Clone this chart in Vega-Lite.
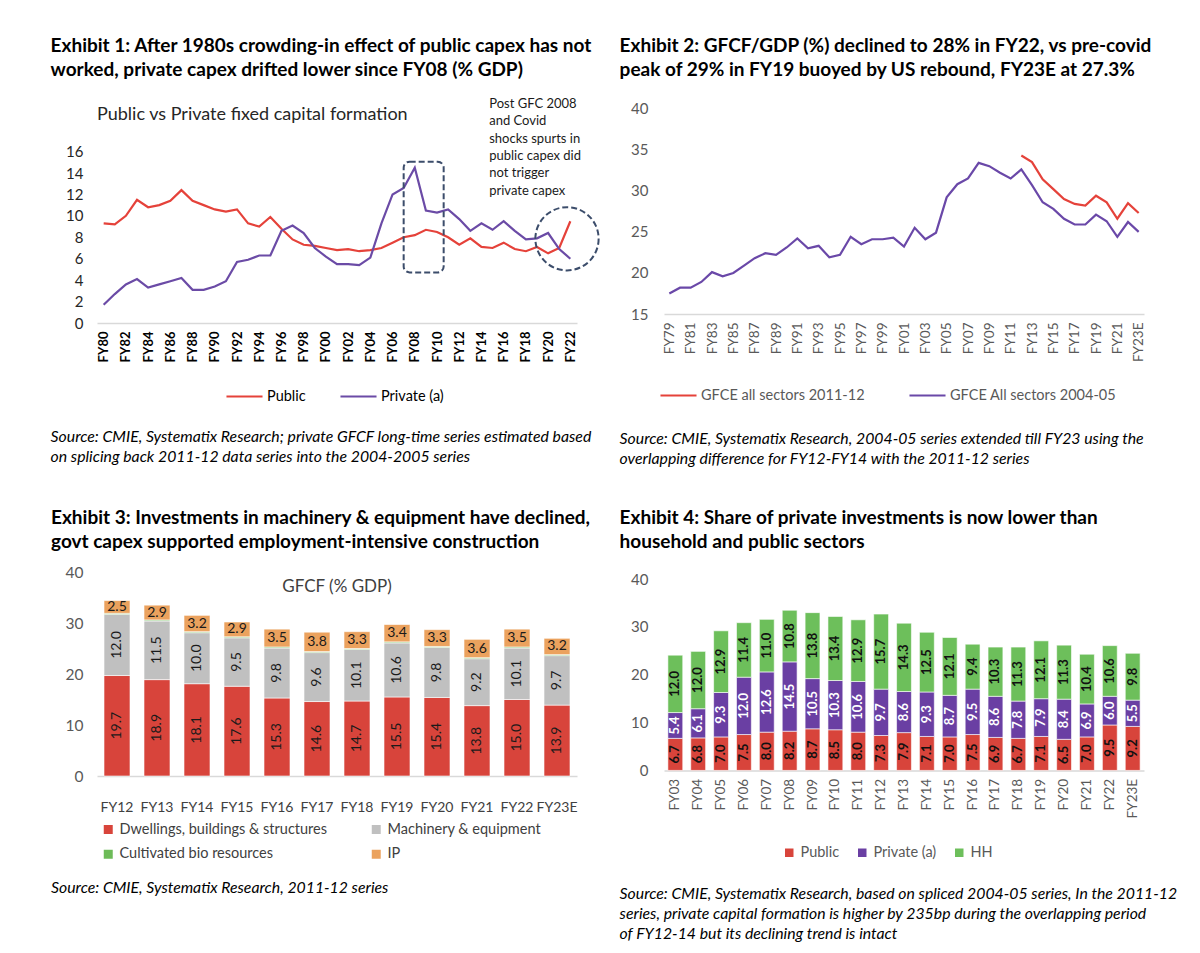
{
  "$schema": "https://vega.github.io/schema/vega-lite/v6.json",
  "background": "white",
  "padding": {"left": 50, "top": 37, "right": 5, "bottom": 5},
  "config": {
    "font": "Lato",
    "view": {"stroke": null},
    "axis": {"grid": false, "ticks": false, "domainColor": "#d9d9d9", "domainWidth": 1.5},
    "legend": {"orient": "bottom", "direction": "horizontal", "labelLimit": 320, "layout": {"anchor": "middle"}},
    "title": {"color": "#000", "anchor": "start"}
  },
  "columns": 2,
  "spacing": {"row": 42, "column": 16},
  "resolve": {"scale": {"color": "independent", "x": "independent", "y": "independent"}, "legend": {"color": "independent"}},
  "concat": [
    {
      "title": {"text": ["Exhibit 1: After 1980s crowding-in effect of public capex has not", "worked, private capex drifted lower since FY08 (% GDP)"], "fontSize": 19, "fontWeight": "bold", "lineHeight": 24, "offset": 18},
      "resolve": {"scale": {"color": "independent"}, "legend": {"color": "independent"}},
      "vconcat": [
        {
          "title": {"text": ["Source: CMIE, Systematix Research; private GFCF long-time series estimated based", "on splicing back 2011-12 data series into the 2004-2005 series"], "orient": "bottom", "fontSize": 15.8, "fontStyle": "italic", "fontWeight": "normal", "lineHeight": 20, "offset": 27, "dx": -15},
          "vconcat": [
            {
              "title": {"text": "Public vs Private fixed capital formation", "frame": "group", "fontSize": 18, "fontWeight": "normal", "offset": -26, "color": "#262626"},
              "width": 480,
              "height": 225,
              "layer": [
                {
                  "data": {"values": [
                    {"year": 1980, "series": "Public", "value": 9.3}, {"year": 1981, "series": "Public", "value": 9.2}, {"year": 1982, "series": "Public", "value": 10.0}, {"year": 1983, "series": "Public", "value": 11.5}, {"year": 1984, "series": "Public", "value": 10.8}, {"year": 1985, "series": "Public", "value": 11.0}, {"year": 1986, "series": "Public", "value": 11.4}, {"year": 1987, "series": "Public", "value": 12.4}, {"year": 1988, "series": "Public", "value": 11.4}, {"year": 1989, "series": "Public", "value": 11.0}, {"year": 1990, "series": "Public", "value": 10.6}, {"year": 1991, "series": "Public", "value": 10.4}, {"year": 1992, "series": "Public", "value": 10.6}, {"year": 1993, "series": "Public", "value": 9.3}, {"year": 1994, "series": "Public", "value": 9.0}, {"year": 1995, "series": "Public", "value": 9.9}, {"year": 1996, "series": "Public", "value": 8.8}, {"year": 1997, "series": "Public", "value": 7.8}, {"year": 1998, "series": "Public", "value": 7.3}, {"year": 1999, "series": "Public", "value": 7.2}, {"year": 2000, "series": "Public", "value": 7.0}, {"year": 2001, "series": "Public", "value": 6.8}, {"year": 2002, "series": "Public", "value": 6.9}, {"year": 2003, "series": "Public", "value": 6.7}, {"year": 2004, "series": "Public", "value": 6.8}, {"year": 2005, "series": "Public", "value": 7.0}, {"year": 2006, "series": "Public", "value": 7.5}, {"year": 2007, "series": "Public", "value": 8.0}, {"year": 2008, "series": "Public", "value": 8.2}, {"year": 2009, "series": "Public", "value": 8.7}, {"year": 2010, "series": "Public", "value": 8.5}, {"year": 2011, "series": "Public", "value": 8.0}, {"year": 2012, "series": "Public", "value": 7.3}, {"year": 2013, "series": "Public", "value": 7.9}, {"year": 2014, "series": "Public", "value": 7.1}, {"year": 2015, "series": "Public", "value": 7.0}, {"year": 2016, "series": "Public", "value": 7.5}, {"year": 2017, "series": "Public", "value": 6.9}, {"year": 2018, "series": "Public", "value": 6.7}, {"year": 2019, "series": "Public", "value": 7.1}, {"year": 2020, "series": "Public", "value": 6.5}, {"year": 2021, "series": "Public", "value": 7.0}, {"year": 2022, "series": "Public", "value": 9.5},
                    {"year": 1980, "series": "Private (a)", "value": 1.7}, {"year": 1981, "series": "Private (a)", "value": 2.7}, {"year": 1982, "series": "Private (a)", "value": 3.6}, {"year": 1983, "series": "Private (a)", "value": 4.1}, {"year": 1984, "series": "Private (a)", "value": 3.3}, {"year": 1985, "series": "Private (a)", "value": 3.6}, {"year": 1986, "series": "Private (a)", "value": 3.9}, {"year": 1987, "series": "Private (a)", "value": 4.2}, {"year": 1988, "series": "Private (a)", "value": 3.1}, {"year": 1989, "series": "Private (a)", "value": 3.1}, {"year": 1990, "series": "Private (a)", "value": 3.4}, {"year": 1991, "series": "Private (a)", "value": 3.9}, {"year": 1992, "series": "Private (a)", "value": 5.7}, {"year": 1993, "series": "Private (a)", "value": 5.9}, {"year": 1994, "series": "Private (a)", "value": 6.3}, {"year": 1995, "series": "Private (a)", "value": 6.3}, {"year": 1996, "series": "Private (a)", "value": 8.6}, {"year": 1997, "series": "Private (a)", "value": 9.1}, {"year": 1998, "series": "Private (a)", "value": 8.4}, {"year": 1999, "series": "Private (a)", "value": 7.0}, {"year": 2000, "series": "Private (a)", "value": 6.2}, {"year": 2001, "series": "Private (a)", "value": 5.5}, {"year": 2002, "series": "Private (a)", "value": 5.5}, {"year": 2003, "series": "Private (a)", "value": 5.4}, {"year": 2004, "series": "Private (a)", "value": 6.1}, {"year": 2005, "series": "Private (a)", "value": 9.3}, {"year": 2006, "series": "Private (a)", "value": 12.0}, {"year": 2007, "series": "Private (a)", "value": 12.6}, {"year": 2008, "series": "Private (a)", "value": 14.5}, {"year": 2009, "series": "Private (a)", "value": 10.5}, {"year": 2010, "series": "Private (a)", "value": 10.3}, {"year": 2011, "series": "Private (a)", "value": 10.6}, {"year": 2012, "series": "Private (a)", "value": 9.7}, {"year": 2013, "series": "Private (a)", "value": 8.6}, {"year": 2014, "series": "Private (a)", "value": 9.3}, {"year": 2015, "series": "Private (a)", "value": 8.7}, {"year": 2016, "series": "Private (a)", "value": 9.5}, {"year": 2017, "series": "Private (a)", "value": 8.6}, {"year": 2018, "series": "Private (a)", "value": 7.8}, {"year": 2019, "series": "Private (a)", "value": 7.9}, {"year": 2020, "series": "Private (a)", "value": 8.4}, {"year": 2021, "series": "Private (a)", "value": 6.9}, {"year": 2022, "series": "Private (a)", "value": 6.0}
                  ]},
                  "mark": {"type": "line", "strokeWidth": 2.2},
                  "encoding": {
                    "x": {"field": "year", "type": "quantitative", "title": null, "scale": {"domain": [1979.4, 2022.6], "nice": false, "zero": false},
                      "axis": {"values": [1980, 1982, 1984, 1986, 1988, 1990, 1992, 1994, 1996, 1998, 2000, 2002, 2004, 2006, 2008, 2010, 2012, 2014, 2016, 2018, 2020, 2022], "labelExpr": "'FY' + slice(toString(datum.value), 2)", "labelAngle": 270, "labelFontSize": 13, "labelFontWeight": "bold", "labelColor": "#000", "labelPadding": 8, "labelOverlap": false, "labelFlush": false}},
                    "y": {"field": "value", "type": "quantitative", "title": null, "scale": {"domain": [0, 21], "nice": false},
                      "axis": {"values": [0, 2, 4, 6, 8, 10, 12, 14, 16], "domain": false, "labelFontSize": 15, "labelColor": "#262626", "labelPadding": 14, "labelOverlap": false}},
                    "color": {"field": "series", "type": "nominal", "title": null,
                      "scale": {"domain": ["Public", "Private (a)"], "range": ["#e5423a", "#6b4ba6"]},
                      "legend": {"symbolType": "stroke", "symbolSize": 1300, "symbolStrokeWidth": 2.2, "labelFontSize": 14.5, "labelColor": "#000", "columnPadding": 30, "offset": 15, "labelOffset": 3}}
                  }
                },
                {
                  "data": {"values": [{"note": "box"}]},
                  "mark": {"type": "rect", "filled": false, "color": "#3c4d6b", "strokeWidth": 2, "strokeDash": [6, 3], "cornerRadius": 6},
                  "encoding": {
                    "x": {"datum": 2007, "type": "quantitative", "scale": {"domain": [1979.4, 2022.6], "nice": false, "zero": false},
                      "axis": {"values": [1980, 1982, 1984, 1986, 1988, 1990, 1992, 1994, 1996, 1998, 2000, 2002, 2004, 2006, 2008, 2010, 2012, 2014, 2016, 2018, 2020, 2022], "labelExpr": "'FY' + slice(toString(datum.value), 2)", "labelAngle": 270, "labelFontSize": 13, "labelFontWeight": "bold", "labelColor": "#000", "labelPadding": 8, "labelOverlap": false, "labelFlush": false}},
                    "x2": {"datum": 2010.6},
                    "y": {"datum": 15.06, "type": "quantitative", "scale": {"domain": [0, 21], "nice": false},
                      "axis": {"values": [0, 2, 4, 6, 8, 10, 12, 14, 16], "domain": false, "labelFontSize": 15, "labelColor": "#262626", "labelPadding": 14, "labelOverlap": false}},
                    "y2": {"datum": 4.72}
                  }
                },
                {
                  "data": {"values": [{"note": "circle"}]},
                  "mark": {"type": "point", "shape": "circle", "filled": false, "size": 4000, "color": "#3c4d6b", "strokeWidth": 2, "strokeDash": [6, 3], "opacity": 1},
                  "encoding": {
                    "x": {"datum": 2021.7, "type": "quantitative", "scale": {"domain": [1979.4, 2022.6], "nice": false, "zero": false},
                      "axis": {"values": [1980, 1982, 1984, 1986, 1988, 1990, 1992, 1994, 1996, 1998, 2000, 2002, 2004, 2006, 2008, 2010, 2012, 2014, 2016, 2018, 2020, 2022], "labelExpr": "'FY' + slice(toString(datum.value), 2)", "labelAngle": 270, "labelFontSize": 13, "labelFontWeight": "bold", "labelColor": "#000", "labelPadding": 8, "labelOverlap": false, "labelFlush": false}},
                    "y": {"datum": 7.86, "type": "quantitative", "scale": {"domain": [0, 21], "nice": false},
                      "axis": {"values": [0, 2, 4, 6, 8, 10, 12, 14, 16], "domain": false, "labelFontSize": 15, "labelColor": "#262626", "labelPadding": 14, "labelOverlap": false}}
                  }
                },
                {
                  "data": {"values": [{"note": "Post GFC 2008\nand Covid\nshocks spurts in\npublic capex did\nnot trigger\nprivate capex"}]},
                  "mark": {"type": "text", "align": "left", "baseline": "top", "lineBreak": "\n", "lineHeight": 17.3, "fontSize": 13, "color": "#1a1a1a"},
                  "encoding": {
                    "x": {"datum": 2014.7, "type": "quantitative", "scale": {"domain": [1979.4, 2022.6], "nice": false, "zero": false},
                      "axis": {"values": [1980, 1982, 1984, 1986, 1988, 1990, 1992, 1994, 1996, 1998, 2000, 2002, 2004, 2006, 2008, 2010, 2012, 2014, 2016, 2018, 2020, 2022], "labelExpr": "'FY' + slice(toString(datum.value), 2)", "labelAngle": 270, "labelFontSize": 13, "labelFontWeight": "bold", "labelColor": "#000", "labelPadding": 8, "labelOverlap": false, "labelFlush": false}},
                    "y": {"datum": 21, "type": "quantitative", "scale": {"domain": [0, 21], "nice": false},
                      "axis": {"values": [0, 2, 4, 6, 8, 10, 12, 14, 16], "domain": false, "labelFontSize": 15, "labelColor": "#262626", "labelPadding": 14, "labelOverlap": false}},
                    "text": {"field": "note", "type": "nominal"}
                  }
                }
              ]
            }
          ]
        }
      ]
    },
    {
      "title": {"text": ["Exhibit 2: GFCF/GDP (%) declined to 28% in FY22, vs pre-covid", "peak of 29% in FY19 buoyed by US rebound, FY23E at 27.3%"], "fontSize": 19, "fontWeight": "bold", "lineHeight": 24, "offset": 18},
      "resolve": {"scale": {"color": "independent"}, "legend": {"color": "independent"}},
      "vconcat": [
        {
          "title": {"text": ["Source: CMIE, Systematix Research, 2004-05 series extended till FY23 using the", "overlapping difference for FY12-FY14 with the 2011-12 series"], "orient": "bottom", "fontSize": 15.8, "fontStyle": "italic", "fontWeight": "normal", "lineHeight": 20, "offset": 30, "dx": -11},
          "vconcat": [
            {
              "width": 480,
              "height": 216,
              "data": {"values": [
                {"fy": "FY79", "series": "GFCE All sectors 2004-05", "value": 17.5}, {"fy": "FY80", "series": "GFCE All sectors 2004-05", "value": 18.2}, {"fy": "FY81", "series": "GFCE All sectors 2004-05", "value": 18.2}, {"fy": "FY82", "series": "GFCE All sectors 2004-05", "value": 18.9}, {"fy": "FY83", "series": "GFCE All sectors 2004-05", "value": 20.1}, {"fy": "FY84", "series": "GFCE All sectors 2004-05", "value": 19.6}, {"fy": "FY85", "series": "GFCE All sectors 2004-05", "value": 20.0}, {"fy": "FY86", "series": "GFCE All sectors 2004-05", "value": 20.9}, {"fy": "FY87", "series": "GFCE All sectors 2004-05", "value": 21.8}, {"fy": "FY88", "series": "GFCE All sectors 2004-05", "value": 22.4}, {"fy": "FY89", "series": "GFCE All sectors 2004-05", "value": 22.2}, {"fy": "FY90", "series": "GFCE All sectors 2004-05", "value": 23.1}, {"fy": "FY91", "series": "GFCE All sectors 2004-05", "value": 24.2}, {"fy": "FY92", "series": "GFCE All sectors 2004-05", "value": 23.0}, {"fy": "FY93", "series": "GFCE All sectors 2004-05", "value": 23.3}, {"fy": "FY94", "series": "GFCE All sectors 2004-05", "value": 21.9}, {"fy": "FY95", "series": "GFCE All sectors 2004-05", "value": 22.2}, {"fy": "FY96", "series": "GFCE All sectors 2004-05", "value": 24.4}, {"fy": "FY97", "series": "GFCE All sectors 2004-05", "value": 23.5}, {"fy": "FY98", "series": "GFCE All sectors 2004-05", "value": 24.1}, {"fy": "FY99", "series": "GFCE All sectors 2004-05", "value": 24.1}, {"fy": "FY00", "series": "GFCE All sectors 2004-05", "value": 24.3}, {"fy": "FY01", "series": "GFCE All sectors 2004-05", "value": 23.2}, {"fy": "FY02", "series": "GFCE All sectors 2004-05", "value": 25.5}, {"fy": "FY03", "series": "GFCE All sectors 2004-05", "value": 24.1}, {"fy": "FY04", "series": "GFCE All sectors 2004-05", "value": 24.9}, {"fy": "FY05", "series": "GFCE All sectors 2004-05", "value": 29.2}, {"fy": "FY06", "series": "GFCE All sectors 2004-05", "value": 30.8}, {"fy": "FY07", "series": "GFCE All sectors 2004-05", "value": 31.5}, {"fy": "FY08", "series": "GFCE All sectors 2004-05", "value": 33.4}, {"fy": "FY09", "series": "GFCE All sectors 2004-05", "value": 33.0}, {"fy": "FY10", "series": "GFCE All sectors 2004-05", "value": 32.2}, {"fy": "FY11", "series": "GFCE All sectors 2004-05", "value": 31.5}, {"fy": "FY12", "series": "GFCE All sectors 2004-05", "value": 32.6}, {"fy": "FY13", "series": "GFCE All sectors 2004-05", "value": 30.7}, {"fy": "FY14", "series": "GFCE All sectors 2004-05", "value": 28.6}, {"fy": "FY15", "series": "GFCE All sectors 2004-05", "value": 27.8}, {"fy": "FY16", "series": "GFCE All sectors 2004-05", "value": 26.6}, {"fy": "FY17", "series": "GFCE All sectors 2004-05", "value": 25.9}, {"fy": "FY18", "series": "GFCE All sectors 2004-05", "value": 25.9}, {"fy": "FY19", "series": "GFCE All sectors 2004-05", "value": 27.1}, {"fy": "FY20", "series": "GFCE All sectors 2004-05", "value": 26.3}, {"fy": "FY21", "series": "GFCE All sectors 2004-05", "value": 24.4}, {"fy": "FY22", "series": "GFCE All sectors 2004-05", "value": 26.2}, {"fy": "FY23E", "series": "GFCE All sectors 2004-05", "value": 25.0},
                {"fy": "FY12", "series": "GFCE all sectors 2011-12", "value": 34.3}, {"fy": "FY13", "series": "GFCE all sectors 2011-12", "value": 33.5}, {"fy": "FY14", "series": "GFCE all sectors 2011-12", "value": 31.4}, {"fy": "FY15", "series": "GFCE all sectors 2011-12", "value": 30.2}, {"fy": "FY16", "series": "GFCE all sectors 2011-12", "value": 29.0}, {"fy": "FY17", "series": "GFCE all sectors 2011-12", "value": 28.4}, {"fy": "FY18", "series": "GFCE all sectors 2011-12", "value": 28.2}, {"fy": "FY19", "series": "GFCE all sectors 2011-12", "value": 29.4}, {"fy": "FY20", "series": "GFCE all sectors 2011-12", "value": 28.6}, {"fy": "FY21", "series": "GFCE all sectors 2011-12", "value": 26.6}, {"fy": "FY22", "series": "GFCE all sectors 2011-12", "value": 28.5}, {"fy": "FY23E", "series": "GFCE all sectors 2011-12", "value": 27.3}
              ]},
              "mark": {"type": "line", "strokeWidth": 2.2},
              "encoding": {
                "x": {"field": "fy", "type": "ordinal", "sort": null, "title": null, "scale": {"type": "point", "padding": 0.5},
                  "axis": {"values": ["FY79", "FY81", "FY83", "FY85", "FY87", "FY89", "FY91", "FY93", "FY95", "FY97", "FY99", "FY01", "FY03", "FY05", "FY07", "FY09", "FY11", "FY13", "FY15", "FY17", "FY19", "FY21", "FY23E"], "labelAngle": 270, "labelFontSize": 13.5, "labelColor": "#595959", "labelPadding": 8}},
                "y": {"field": "value", "type": "quantitative", "title": null, "scale": {"domain": [15, 41.3], "nice": false, "zero": false},
                  "axis": {"values": [15, 20, 25, 30, 35, 40], "domain": false, "labelFontSize": 15, "labelColor": "#595959", "labelPadding": 16}},
                "color": {"field": "series", "type": "nominal", "title": null,
                  "scale": {"domain": ["GFCE all sectors 2011-12", "GFCE All sectors 2004-05"], "range": ["#e5423a", "#6a48a8"]},
                  "legend": {"symbolType": "stroke", "symbolSize": 1300, "symbolStrokeWidth": 2.2, "labelFontSize": 14.5, "labelColor": "#595959", "columnPadding": 40, "offset": 14, "labelOffset": 3}}
              }
            }
          ]
        }
      ]
    },
    {
      "title": {"text": ["Exhibit 3: Investments in machinery & equipment have declined,", "govt capex supported employment-intensive construction"], "fontSize": 19, "fontWeight": "bold", "lineHeight": 24, "offset": 13},
      "resolve": {"scale": {"color": "independent"}, "legend": {"color": "independent"}},
      "vconcat": [
        {
          "title": {"text": "Source: CMIE, Systematix Research, 2011-12 series", "orient": "bottom", "fontSize": 15.8, "fontStyle": "italic", "fontWeight": "normal", "offset": 18, "dx": -14},
          "vconcat": [
            {
              "title": {"text": "GFCF (% GDP)", "anchor": "middle", "frame": "group", "fontSize": 17, "fontWeight": "normal", "offset": -31, "color": "#404040"},
              "width": 480,
              "height": 204,
              "data": {"values": [
                {"fy": "FY12", "component": "Dwellings, buildings & structures", "k": 1, "value": 19.7}, {"fy": "FY12", "component": "Machinery & equipment", "k": 2, "value": 12.0}, {"fy": "FY12", "component": "Cultivated bio resources", "k": 3, "value": 0.2}, {"fy": "FY12", "component": "IP", "k": 4, "value": 2.5},
                {"fy": "FY13", "component": "Dwellings, buildings & structures", "k": 1, "value": 18.9}, {"fy": "FY13", "component": "Machinery & equipment", "k": 2, "value": 11.5}, {"fy": "FY13", "component": "Cultivated bio resources", "k": 3, "value": 0.2}, {"fy": "FY13", "component": "IP", "k": 4, "value": 2.9},
                {"fy": "FY14", "component": "Dwellings, buildings & structures", "k": 1, "value": 18.1}, {"fy": "FY14", "component": "Machinery & equipment", "k": 2, "value": 10.0}, {"fy": "FY14", "component": "Cultivated bio resources", "k": 3, "value": 0.2}, {"fy": "FY14", "component": "IP", "k": 4, "value": 3.2},
                {"fy": "FY15", "component": "Dwellings, buildings & structures", "k": 1, "value": 17.6}, {"fy": "FY15", "component": "Machinery & equipment", "k": 2, "value": 9.5}, {"fy": "FY15", "component": "Cultivated bio resources", "k": 3, "value": 0.2}, {"fy": "FY15", "component": "IP", "k": 4, "value": 2.9},
                {"fy": "FY16", "component": "Dwellings, buildings & structures", "k": 1, "value": 15.3}, {"fy": "FY16", "component": "Machinery & equipment", "k": 2, "value": 9.8}, {"fy": "FY16", "component": "Cultivated bio resources", "k": 3, "value": 0.2}, {"fy": "FY16", "component": "IP", "k": 4, "value": 3.5},
                {"fy": "FY17", "component": "Dwellings, buildings & structures", "k": 1, "value": 14.6}, {"fy": "FY17", "component": "Machinery & equipment", "k": 2, "value": 9.6}, {"fy": "FY17", "component": "Cultivated bio resources", "k": 3, "value": 0.2}, {"fy": "FY17", "component": "IP", "k": 4, "value": 3.8},
                {"fy": "FY18", "component": "Dwellings, buildings & structures", "k": 1, "value": 14.7}, {"fy": "FY18", "component": "Machinery & equipment", "k": 2, "value": 10.1}, {"fy": "FY18", "component": "Cultivated bio resources", "k": 3, "value": 0.2}, {"fy": "FY18", "component": "IP", "k": 4, "value": 3.3},
                {"fy": "FY19", "component": "Dwellings, buildings & structures", "k": 1, "value": 15.5}, {"fy": "FY19", "component": "Machinery & equipment", "k": 2, "value": 10.6}, {"fy": "FY19", "component": "Cultivated bio resources", "k": 3, "value": 0.2}, {"fy": "FY19", "component": "IP", "k": 4, "value": 3.4},
                {"fy": "FY20", "component": "Dwellings, buildings & structures", "k": 1, "value": 15.4}, {"fy": "FY20", "component": "Machinery & equipment", "k": 2, "value": 9.8}, {"fy": "FY20", "component": "Cultivated bio resources", "k": 3, "value": 0.2}, {"fy": "FY20", "component": "IP", "k": 4, "value": 3.3},
                {"fy": "FY21", "component": "Dwellings, buildings & structures", "k": 1, "value": 13.8}, {"fy": "FY21", "component": "Machinery & equipment", "k": 2, "value": 9.2}, {"fy": "FY21", "component": "Cultivated bio resources", "k": 3, "value": 0.2}, {"fy": "FY21", "component": "IP", "k": 4, "value": 3.6},
                {"fy": "FY22", "component": "Dwellings, buildings & structures", "k": 1, "value": 15.0}, {"fy": "FY22", "component": "Machinery & equipment", "k": 2, "value": 10.1}, {"fy": "FY22", "component": "Cultivated bio resources", "k": 3, "value": 0.2}, {"fy": "FY22", "component": "IP", "k": 4, "value": 3.5},
                {"fy": "FY23E", "component": "Dwellings, buildings & structures", "k": 1, "value": 13.9}, {"fy": "FY23E", "component": "Machinery & equipment", "k": 2, "value": 9.7}, {"fy": "FY23E", "component": "Cultivated bio resources", "k": 3, "value": 0.2}, {"fy": "FY23E", "component": "IP", "k": 4, "value": 3.2}
              ]},
              "encoding": {
                "x": {"field": "fy", "type": "nominal", "sort": null, "title": null, "scale": {"paddingInner": 0.35, "paddingOuter": 0.175},
                  "axis": {"labelAngle": 0, "labelFontSize": 14, "labelColor": "#404040", "labelPadding": 24}}
              },
              "layer": [
                {
                  "mark": {"type": "bar", "stroke": "white", "strokeWidth": 0.6},
                  "encoding": {
                    "y": {"field": "value", "type": "quantitative", "stack": "zero", "title": null, "scale": {"domain": [0, 40], "nice": false},
                      "axis": {"values": [0, 10, 20, 30, 40], "domain": false, "labelFontSize": 15.5, "labelColor": "#595959", "labelPadding": 14}},
                    "color": {"field": "component", "type": "nominal", "title": null,
                      "scale": {"domain": ["Dwellings, buildings & structures", "Machinery & equipment", "Cultivated bio resources", "IP"], "range": ["#d8443b", "#c0c0c0", "#6dbb58", "#eba25e"]},
                      "legend": {"columns": 2, "symbolType": "square", "symbolSize": 110, "labelFontSize": 14.5, "labelColor": "#404040", "columnPadding": 40, "rowPadding": 8, "offset": 8}},
                    "order": {"field": "k", "type": "quantitative"}
                  }
                },
                {
                  "mark": {"type": "text", "fontSize": 14, "color": "#1a1a1a", "baseline": "middle", "align": "center"},
                  "encoding": {
                    "y": {"field": "value", "type": "quantitative", "stack": "zero", "bandPosition": 0.5},
                    "detail": {"field": "component", "type": "nominal"},
                    "order": {"field": "k", "type": "quantitative"},
                    "text": {"condition": {"test": "datum.component === 'Cultivated bio resources'", "value": ""}, "field": "value", "type": "quantitative", "format": ".1f"},
                    "angle": {"condition": {"test": "datum.component === 'IP'", "value": 0}, "value": 270}
                  }
                }
              ]
            }
          ]
        }
      ]
    },
    {
      "title": {"text": ["Exhibit 4: Share of private investments is now lower than", "household and public sectors"], "fontSize": 19, "fontWeight": "bold", "lineHeight": 24, "offset": 20},
      "resolve": {"scale": {"color": "independent"}, "legend": {"color": "independent"}},
      "vconcat": [
        {
          "title": {"text": ["Source: CMIE, Systematix Research, based on spliced 2004-05 series, In the 2011-12", "series, private capital formation is higher by 235bp during the overlapping period", "of FY12-14 but its declining trend is intact"], "orient": "bottom", "fontSize": 15.8, "fontStyle": "italic", "fontWeight": "normal", "lineHeight": 20, "offset": 26, "dx": -11},
          "vconcat": [
            {
              "width": 480,
              "height": 198.4,
              "data": {"values": [
                {"fy": "FY03", "sector": "Public", "k": 1, "value": 6.7}, {"fy": "FY03", "sector": "Private (a)", "k": 2, "value": 5.4}, {"fy": "FY03", "sector": "HH", "k": 3, "value": 12.0},
                {"fy": "FY04", "sector": "Public", "k": 1, "value": 6.8}, {"fy": "FY04", "sector": "Private (a)", "k": 2, "value": 6.1}, {"fy": "FY04", "sector": "HH", "k": 3, "value": 12.0},
                {"fy": "FY05", "sector": "Public", "k": 1, "value": 7.0}, {"fy": "FY05", "sector": "Private (a)", "k": 2, "value": 9.3}, {"fy": "FY05", "sector": "HH", "k": 3, "value": 12.9},
                {"fy": "FY06", "sector": "Public", "k": 1, "value": 7.5}, {"fy": "FY06", "sector": "Private (a)", "k": 2, "value": 12.0}, {"fy": "FY06", "sector": "HH", "k": 3, "value": 11.4},
                {"fy": "FY07", "sector": "Public", "k": 1, "value": 8.0}, {"fy": "FY07", "sector": "Private (a)", "k": 2, "value": 12.6}, {"fy": "FY07", "sector": "HH", "k": 3, "value": 11.0},
                {"fy": "FY08", "sector": "Public", "k": 1, "value": 8.2}, {"fy": "FY08", "sector": "Private (a)", "k": 2, "value": 14.5}, {"fy": "FY08", "sector": "HH", "k": 3, "value": 10.8},
                {"fy": "FY09", "sector": "Public", "k": 1, "value": 8.7}, {"fy": "FY09", "sector": "Private (a)", "k": 2, "value": 10.5}, {"fy": "FY09", "sector": "HH", "k": 3, "value": 13.8},
                {"fy": "FY10", "sector": "Public", "k": 1, "value": 8.5}, {"fy": "FY10", "sector": "Private (a)", "k": 2, "value": 10.3}, {"fy": "FY10", "sector": "HH", "k": 3, "value": 13.4},
                {"fy": "FY11", "sector": "Public", "k": 1, "value": 8.0}, {"fy": "FY11", "sector": "Private (a)", "k": 2, "value": 10.6}, {"fy": "FY11", "sector": "HH", "k": 3, "value": 12.9},
                {"fy": "FY12", "sector": "Public", "k": 1, "value": 7.3}, {"fy": "FY12", "sector": "Private (a)", "k": 2, "value": 9.7}, {"fy": "FY12", "sector": "HH", "k": 3, "value": 15.7},
                {"fy": "FY13", "sector": "Public", "k": 1, "value": 7.9}, {"fy": "FY13", "sector": "Private (a)", "k": 2, "value": 8.6}, {"fy": "FY13", "sector": "HH", "k": 3, "value": 14.3},
                {"fy": "FY14", "sector": "Public", "k": 1, "value": 7.1}, {"fy": "FY14", "sector": "Private (a)", "k": 2, "value": 9.3}, {"fy": "FY14", "sector": "HH", "k": 3, "value": 12.5},
                {"fy": "FY15", "sector": "Public", "k": 1, "value": 7.0}, {"fy": "FY15", "sector": "Private (a)", "k": 2, "value": 8.7}, {"fy": "FY15", "sector": "HH", "k": 3, "value": 12.1},
                {"fy": "FY16", "sector": "Public", "k": 1, "value": 7.5}, {"fy": "FY16", "sector": "Private (a)", "k": 2, "value": 9.5}, {"fy": "FY16", "sector": "HH", "k": 3, "value": 9.4},
                {"fy": "FY17", "sector": "Public", "k": 1, "value": 6.9}, {"fy": "FY17", "sector": "Private (a)", "k": 2, "value": 8.6}, {"fy": "FY17", "sector": "HH", "k": 3, "value": 10.3},
                {"fy": "FY18", "sector": "Public", "k": 1, "value": 6.7}, {"fy": "FY18", "sector": "Private (a)", "k": 2, "value": 7.8}, {"fy": "FY18", "sector": "HH", "k": 3, "value": 11.3},
                {"fy": "FY19", "sector": "Public", "k": 1, "value": 7.1}, {"fy": "FY19", "sector": "Private (a)", "k": 2, "value": 7.9}, {"fy": "FY19", "sector": "HH", "k": 3, "value": 12.1},
                {"fy": "FY20", "sector": "Public", "k": 1, "value": 6.5}, {"fy": "FY20", "sector": "Private (a)", "k": 2, "value": 8.4}, {"fy": "FY20", "sector": "HH", "k": 3, "value": 11.3},
                {"fy": "FY21", "sector": "Public", "k": 1, "value": 7.0}, {"fy": "FY21", "sector": "Private (a)", "k": 2, "value": 6.9}, {"fy": "FY21", "sector": "HH", "k": 3, "value": 10.4},
                {"fy": "FY22", "sector": "Public", "k": 1, "value": 9.5}, {"fy": "FY22", "sector": "Private (a)", "k": 2, "value": 6.0}, {"fy": "FY22", "sector": "HH", "k": 3, "value": 10.6},
                {"fy": "FY23E", "sector": "Public", "k": 1, "value": 9.2}, {"fy": "FY23E", "sector": "Private (a)", "k": 2, "value": 5.5}, {"fy": "FY23E", "sector": "HH", "k": 3, "value": 9.8}
              ]},
              "encoding": {
                "x": {"field": "fy", "type": "nominal", "sort": null, "title": null, "scale": {"paddingInner": 0.35, "paddingOuter": 0.17},
                  "axis": {"labelAngle": 270, "labelFontSize": 13.5, "labelColor": "#595959", "labelPadding": 8}}
              },
              "layer": [
                {
                  "mark": {"type": "bar", "stroke": "white", "strokeWidth": 0.6},
                  "encoding": {
                    "y": {"field": "value", "type": "quantitative", "stack": "zero", "title": null, "scale": {"domain": [0, 41.5], "nice": false},
                      "axis": {"values": [0, 5, 10, 15, 20, 25, 30, 35, 40], "domain": false, "labelFontSize": 15, "labelColor": "#595959", "labelPadding": 16}},
                    "color": {"field": "sector", "type": "nominal", "title": null,
                      "scale": {"domain": ["Public", "Private (a)", "HH"], "range": ["#d8443b", "#6a3fa3", "#6dbf5b"]},
                      "legend": {"symbolType": "square", "symbolSize": 100, "labelFontSize": 14.5, "labelColor": "#595959", "columnPadding": 14, "offset": 27}},
                    "order": {"field": "k", "type": "quantitative"}
                  }
                },
                {
                  "mark": {"type": "text", "fontSize": 13, "fontWeight": "bold", "baseline": "middle", "align": "center", "angle": 270},
                  "encoding": {
                    "y": {"field": "value", "type": "quantitative", "stack": "zero", "bandPosition": 0.5},
                    "detail": {"field": "sector", "type": "nominal"},
                    "order": {"field": "k", "type": "quantitative"},
                    "text": {"field": "value", "type": "quantitative", "format": ".1f"},
                    "color": {"condition": {"test": "datum.sector === 'Private (a)'", "value": "white"}, "value": "#111111"}
                  }
                }
              ]
            }
          ]
        }
      ]
    }
  ]
}
